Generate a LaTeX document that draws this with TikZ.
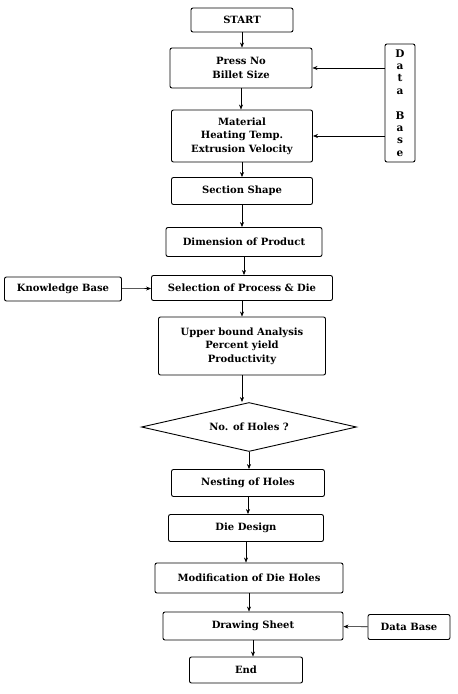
\documentclass[tikz,border=0pt]{standalone}
\usepackage{fontspec}
\setmainfont{DejaVu Serif}
\usetikzlibrary{shapes.geometric,arrows.meta}
\tikzset{
  chart/.style={x=1pt, y=-1pt, line width=0.9pt,
    font=\fontsize{10}{13.5}\selectfont\bfseries},
  fbox/.style={draw, rounded corners=2pt, align=center, inner sep=0pt},
  fsize/.style 2 args={minimum width=#1pt, minimum height=#2pt},
  fcheck/.style={draw, diamond, aspect=4.4, inner sep=0pt},
  flow/.style={-{Stealth[length=5pt,width=4pt]}, line width=0.6pt},
}
\newcommand{\fdown}[2]{\draw[flow] (#1.south) -- (#1.south |- #2.north);}

\begin{document}
\begin{tikzpicture}[chart]
  \useasboundingbox (0,0) rectangle (458,694);
  % main column of the chart
  \node[fbox, fsize={102}{24}] (start) at (242,20) {START};
  \node[fbox, fsize={142}{40}] (press) at (241,68) {Press No\\Billet Size};
  \node[fbox, fsize={141}{52}] (mat) at (242,136)
    {Material\\Heating Temp.\\Extrusion Velocity};
  \node[fbox, fsize={141}{27}] (sect) at (242,191) {Section Shape};
  \node[fbox, fsize={156}{29}] (dim) at (244,242) {Dimension of Product};
  \node[fbox, fsize={181}{25}] (sel) at (242,288) {Selection of Process \& Die};
  \node[fbox, fsize={167}{58}] (upper) at (242,346)
    {Upper bound Analysis\\Percent yield\\Productivity};
  \node[fcheck, fsize={215}{49}] (holes) at (249,427) {No. of Holes ?};
  \node[fbox, fsize={153}{27}] (nest) at (248,483) {Nesting of Holes};
  \node[fbox, fsize={155}{27}] (design) at (246,528) {Die Design};
  \node[fbox, fsize={188}{30}] (modif) at (249,578) {Modification of Die Holes};
  \node[fbox, fsize={180}{28}] (sheet) at (253,626) {Drawing Sheet};
  \node[fbox, fsize={113}{26}] (end) at (246,670) {End};
  % side inputs
  \node[fbox, fsize={30}{118}, font=\fontsize{10.5}{12.4}\selectfont\bfseries]
    (dbtop) at (400,103) {D\\a\\t\\a\\[12.4pt]B\\a\\s\\e};
  \node[fbox, fsize={117}{24}] (know) at (63,289) {Knowledge Base};
  \node[fbox, fsize={82}{25}] (dbbot) at (409,627) {Data Base};
  % flow down the column
  \fdown{start}{press}
  \fdown{press}{mat}
  \fdown{mat}{sect}
  \fdown{sect}{dim}
  \fdown{dim}{sel}
  \fdown{sel}{upper}
  \draw[flow] (upper.south) -- (upper.south |- holes.north);
  \fdown{holes}{nest}
  \fdown{nest}{design}
  \fdown{design}{modif}
  \fdown{modif}{sheet}
  \fdown{sheet}{end}
  % inputs from the bases
  \draw[flow] (dbtop.west |- press) -- (press.east);
  \draw[flow] (dbtop.west |- mat) -- (mat.east);
  \draw[flow] (know) -- (sel);
  \draw[flow] (dbbot) -- (sheet);
\end{tikzpicture}
\end{document}
